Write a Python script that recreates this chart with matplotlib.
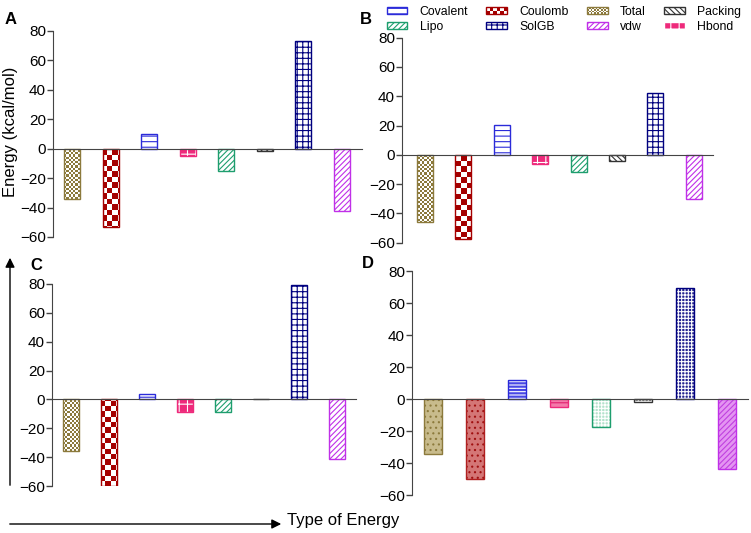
import matplotlib
matplotlib.use("Agg")
import matplotlib.pyplot as plt
import numpy as np
from matplotlib.colors import ListedColormap
from matplotlib.patches import Patch, Rectangle, FancyArrowPatch
from matplotlib.legend_handler import HandlerBase

plt.rcParams['font.family'] = ['Liberation Sans', 'DejaVu Sans']
plt.rcParams['hatch.linewidth'] = 0.8

categories = ['Total', 'Coulomb', 'Covalent', 'Hbond', 'Lipo', 'Packing', 'SolGB', 'vdw']
panel_a = [-34.5, -53.2, 9.8, -4.8, -15.2, -1.8, 73.2, -42.0]
panel_b = [-45.7, -57.4, 20.6, -6.2, -11.7, -3.9, 42.5, -30.4]
panel_c = [-35.6, -59.8, 3.7, -8.7, -8.7, 0.0, 79.1, -41.1]
panel_d = [-34.2, -50.0, 11.9, -4.8, -17.1, -1.7, 69.4, -43.5]
yticks = [-60, -40, -20, 0, 20, 40, 60, 80]

W, H = 751, 533
olive, red, blue, pink = '#8C7A3C', '#A50000', '#2B2BD9', '#EE2A7B'
green, dark, navy, magenta = '#1E9E6E', '#333333', '#00007F', '#C030E8'

# outline styles (panels A-C)
style_line = {
    'Total':    dict(kind='checker', color=olive, cell=2.2),
    'Coulomb':  dict(kind='checker', color=red, cell=5.3),
    'Covalent': dict(kind='hatch', color=blue, hatch='---'),
    'Hbond':    dict(kind='fill', color=pink, face=pink, hc='white', hatch='++'),
    'Lipo':     dict(kind='hatch', color=green, hatch='//////'),
    'Packing':  dict(kind='hatch', color=dark, hatch='\\\\\\\\\\\\'),
    'SolGB':    dict(kind='hatch', color=navy, hatch='+++'),
    'vdw':      dict(kind='hatch', color=magenta, hatch='//////'),
}
# filled styles (panel D)
style_fill = {
    'Total':    dict(kind='fill', color=olive, face='#C8BB8C', hc=olive, hatch='...'),
    'Coulomb':  dict(kind='fill', color='#B02020', face='#D47676', hc='#A01010', hatch='...'),
    'Covalent': dict(kind='fill', color=blue, face='#4848E4', hc='white', hatch='-----'),
    'Hbond':    dict(kind='fill', color=pink, face='#F47AAA', hc='#E0206E', hatch='---'),
    'Lipo':     dict(kind='fill', color=green, face='#B4E2CC', hc='white', hatch='+++++'),
    'Packing':  dict(kind='fill', color=dark, face='#8A8A8A', hc='white', hatch='+++++'),
    'SolGB':    dict(kind='fill', color=navy, face='#24248F', hc='white', hatch='+++++'),
    'vdw':      dict(kind='fill', color=magenta, face='#E494F2', hc='#C040E0', hatch='//////'),
}

fig = plt.figure(figsize=(W / 100, H / 100), dpi=100)


def px_axes(x0, x1, ytop, ybot):
    return fig.add_axes([x0 / W, 1 - ybot / H, (x1 - x0) / W, (ybot - ytop) / H])


def checker(ax, bar, color, cell):
    bb = ax.get_position()
    nw = int(bb.width * W / cell)
    nh = int(bb.height * H / cell)
    grid = np.add.outer(np.arange(nh), np.arange(nw)) % 2
    im = ax.imshow(grid, cmap=ListedColormap(['white', color]), extent=(0, 1, 0, 1),
                   transform=ax.transAxes, aspect='auto', interpolation='nearest', zorder=1.5)
    im.set_clip_path(bar)


def draw_panel(ax, values, styles, xlim, width):
    x = np.arange(len(categories))
    for i, cat in enumerate(categories):
        st = styles[cat]
        v = values[i]
        if st['kind'] == 'hatch':
            ax.bar(x[i], v, width, color='white', edgecolor=st['color'], hatch=st['hatch'], linewidth=1)
        elif st['kind'] == 'fill':
            ax.bar(x[i], v, width, color=st['face'], edgecolor=st['hc'], hatch=st['hatch'], linewidth=0)
            ax.bar(x[i], v, width, fill=False, edgecolor=st['color'], linewidth=1, zorder=2)
        else:
            b = ax.bar(x[i], v, width, color='white', edgecolor=st['color'], linewidth=1, zorder=2)[0]
            b.set_facecolor('none')
            checker(ax, b, st['color'], st['cell'])
    ax.set_xlim(*xlim)
    ax.set_ylim(-60, 80)
    ax.set_yticks(yticks)
    ax.set_xticks([])
    ax.spines['top'].set_visible(False)
    ax.spines['right'].set_visible(False)
    ax.spines['bottom'].set_position(('data', 0))
    ax.spines['bottom'].set_color('#444444')
    ax.spines['left'].set_color('#444444')
    ax.tick_params(axis='y', length=4, width=1, color='#444444', labelsize=11, pad=1)
    ax.patch.set_visible(False)


ax_a = px_axes(53, 362, 31, 237)
draw_panel(ax_a, panel_a, style_line, (-0.5, 7.53), 0.42)
ax_b = px_axes(402, 713, 37.7, 242.7)
draw_panel(ax_b, panel_b, style_line, (-0.6, 7.5), 0.42)
ax_c = px_axes(52, 356, 283.7, 486.3)
draw_panel(ax_c, panel_c, style_line, (-0.5, 7.5), 0.42)
ax_d = px_axes(412, 748, 271.3, 495.3)
draw_panel(ax_d, panel_d, style_fill, (-0.5, 7.5), 0.41)

# panel letters
for lab, (px, py) in zip('ABCD', [(5, 20), (360, 20), (30, 266), (362, 264)]):
    fig.text(px / W, 1 - py / H, lab, fontsize=12, fontweight='bold', va='center', ha='left')

fig.text(11 / W, 1 - 132 / H, 'Energy (kcal/mol)', rotation=90, fontsize=12, va='center', ha='center')
fig.text(287 / W, 1 - 521 / H, 'Type of Energy', fontsize=12, va='center', ha='left')

fig.add_artist(FancyArrowPatch((10 / W, 1 - 488 / H), (10 / W, 1 - 255 / H), transform=fig.transFigure,
                               arrowstyle='-|>', mutation_scale=14, color='black', lw=1))
fig.add_artist(FancyArrowPatch((7 / W, 1 - 524 / H), (284 / W, 1 - 524 / H), transform=fig.transFigure,
                               arrowstyle='-|>', mutation_scale=14, color='black', lw=1))


class CheckerHandler(HandlerBase):
    def __init__(self, color, nx):
        super().__init__()
        self.color = color
        self.nx = nx

    def create_artists(self, legend, orig_handle, xdescent, ydescent, width, height, fontsize, trans):
        arts = []
        nx = self.nx
        ny = max(2, round(nx * height / width))
        cw, ch = width / nx, height / ny
        for i in range(nx):
            for j in range(ny):
                if (i + j) % 2 == 0:
                    arts.append(Rectangle((-xdescent + i * cw, -ydescent + j * ch), cw, ch,
                                          facecolor=self.color, edgecolor='none', transform=trans))
        arts.append(Rectangle((-xdescent, -ydescent), width, height, facecolor='none',
                              edgecolor=self.color, lw=1, transform=trans))
        return arts


def legend_patch(st, label):
    if st['kind'] == 'hatch':
        return Patch(facecolor='white', edgecolor=st['color'], hatch=st['hatch'], label=label)
    if st['kind'] == 'fill':
        return Patch(facecolor=st['face'], edgecolor=st['hc'], hatch=st['hatch'], label=label)
    return Patch(facecolor='none', edgecolor=st['color'], label=label)


legend_order = ['Covalent', 'Lipo', 'Coulomb', 'SolGB', 'Total', 'vdw', 'Packing', 'Hbond']
handles = [legend_patch(style_line[c], c) for c in legend_order]
hmap = {handles[2]: CheckerHandler(red, 6), handles[4]: CheckerHandler(olive, 12)}
fig.legend(handles=handles, loc='upper left', bbox_to_anchor=(378 / W, 1.005), ncol=4, frameon=False,
           fontsize=8.8, handlelength=1.7, handleheight=0.55, handletextpad=1.0, columnspacing=1.5,
           labelspacing=0.25, borderpad=0.2, handler_map=hmap)

fig.savefig('out.png', dpi=100)
